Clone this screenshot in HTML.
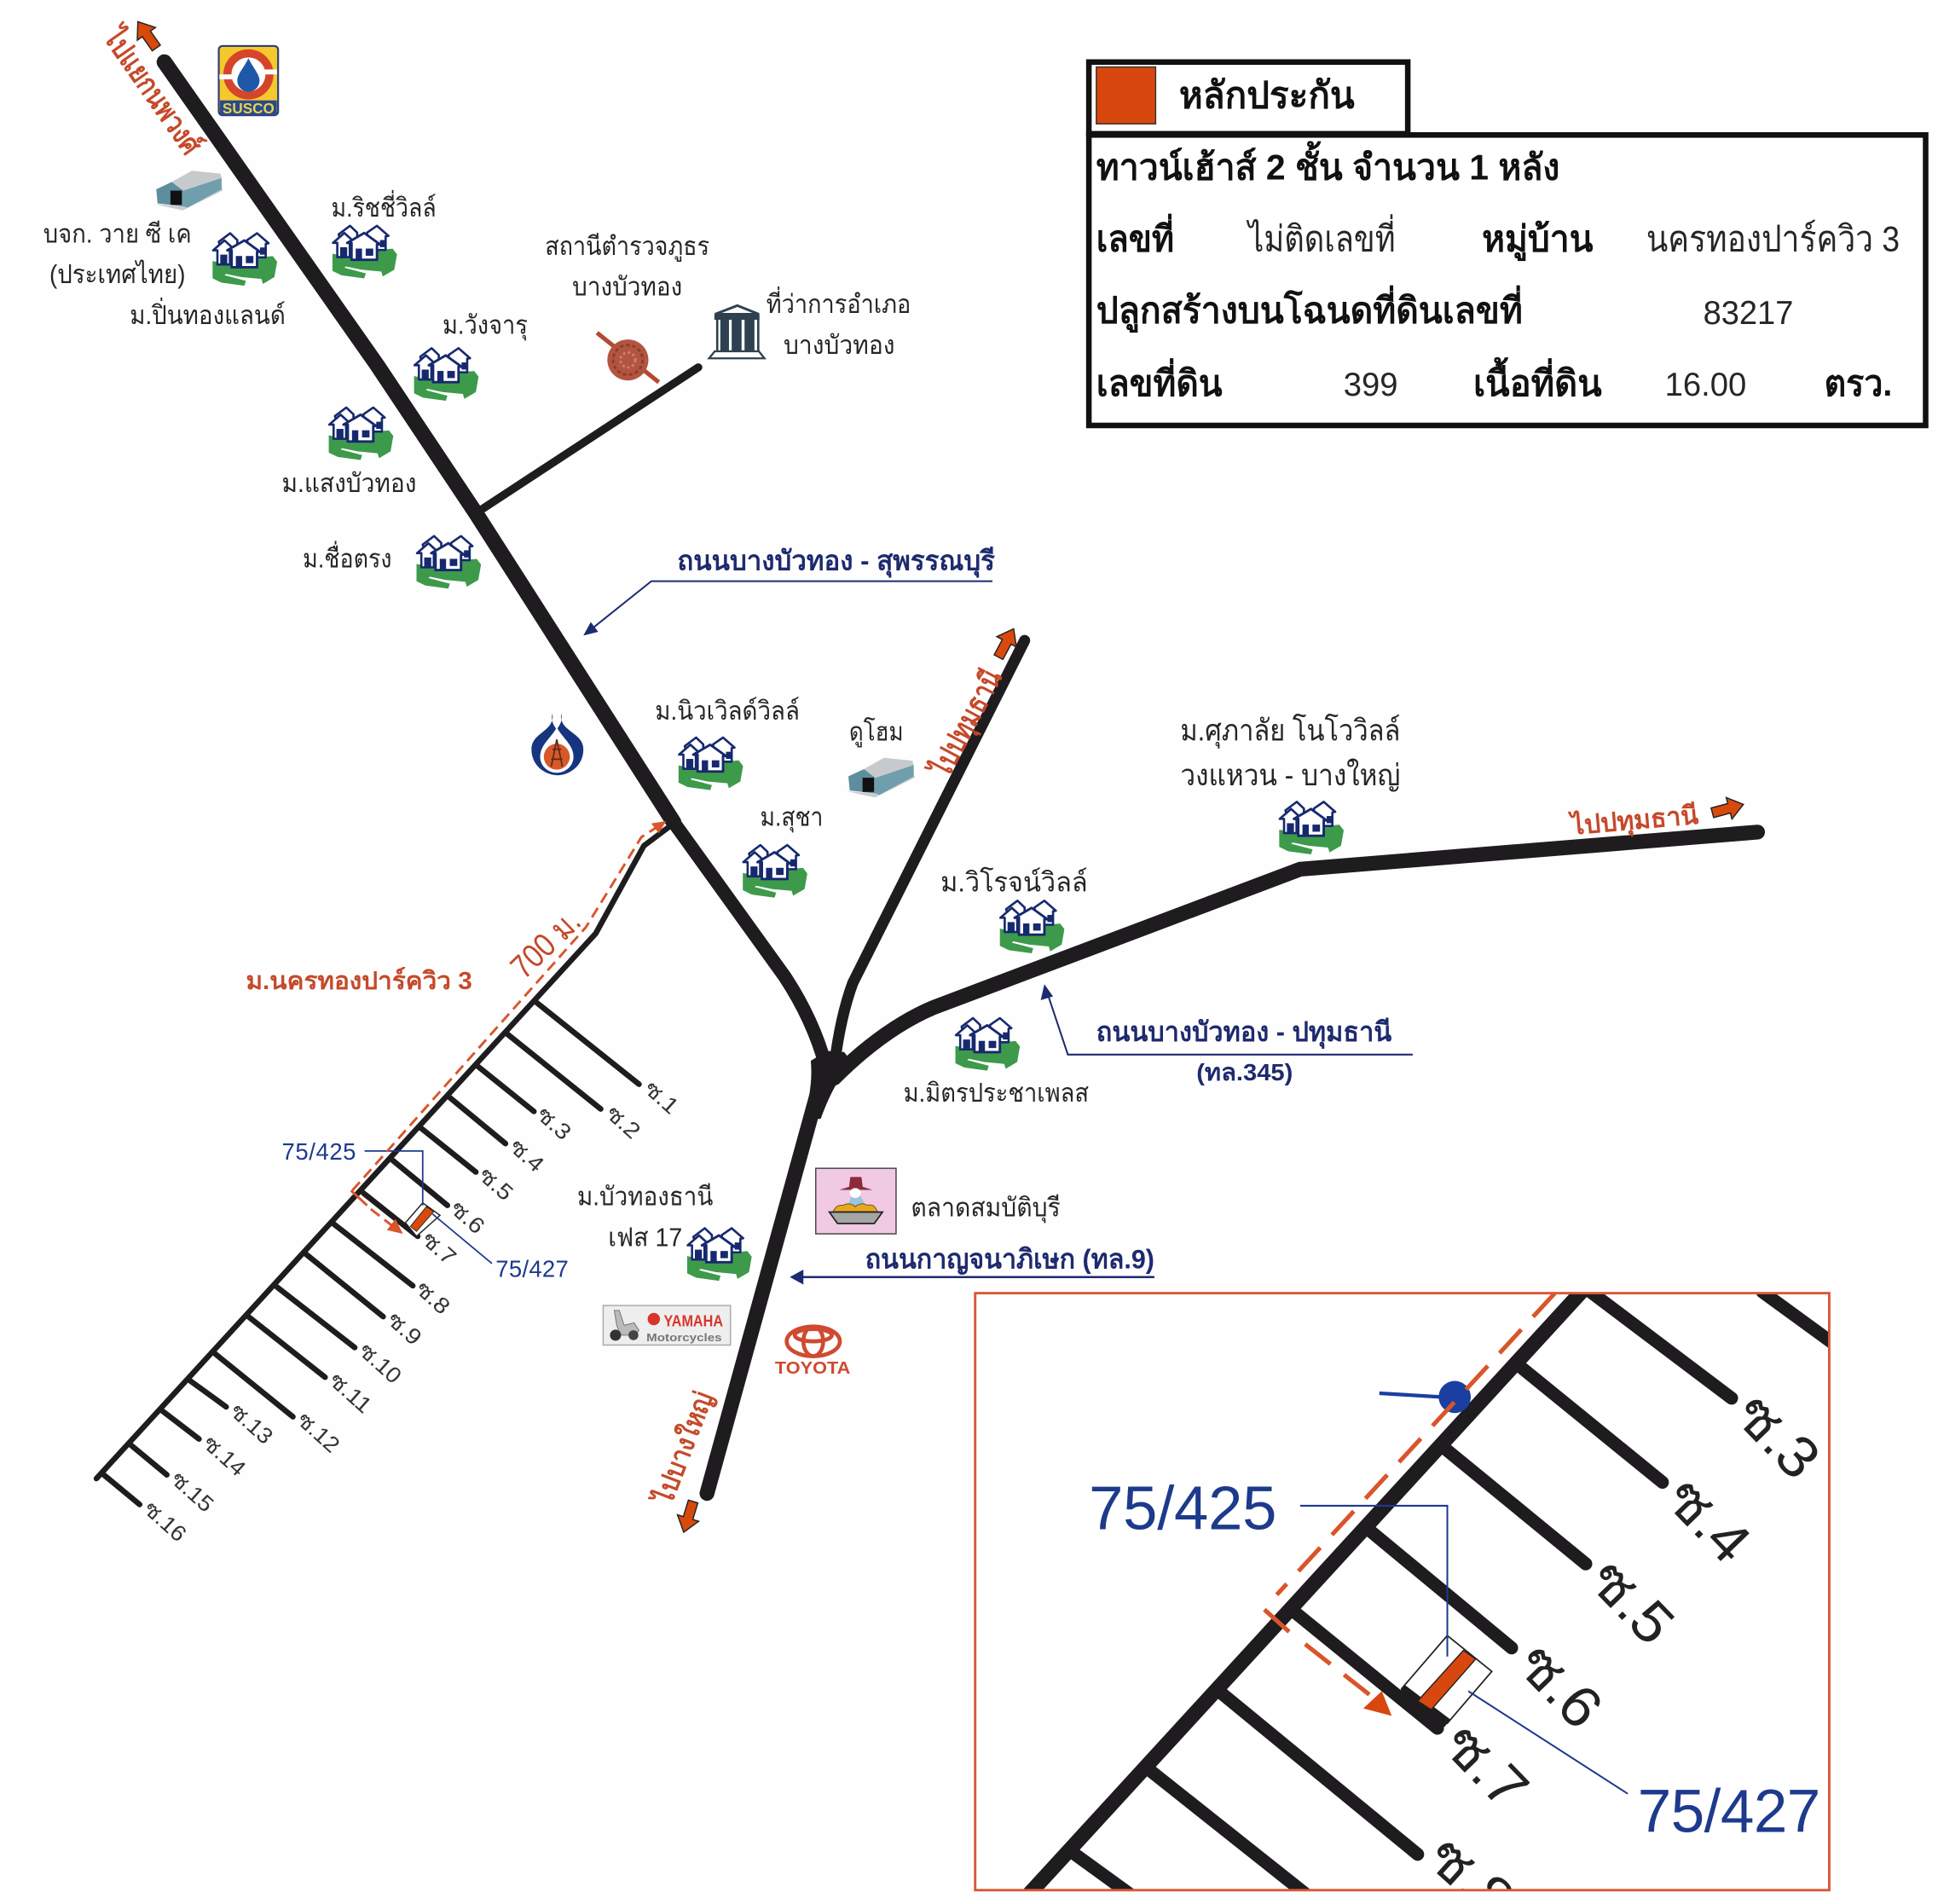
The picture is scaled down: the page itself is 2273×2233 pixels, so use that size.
<!DOCTYPE html>
<html><head><meta charset="utf-8"><style>
html,body{margin:0;padding:0;background:#fefefe}
svg{display:block}
text{font-family:"Liberation Sans","Noto Sans CJK SC","WenQuanYi Zen Hei",sans-serif;fill:#262626}
.b{font-weight:bold;fill:#111}
.n{fill:#1e2a6e;font-weight:bold}
.bl{fill:#1d3a8c}
.o{fill:#c5492a}
.s{font-size:18px;fill:#333}
.i{font-size:47px;fill:#222}
</style></head><body>
<svg xmlns="http://www.w3.org/2000/svg" width="2273" height="2233" viewBox="0 0 1568 1540">
<defs>
<g id="house">
<path d="M1,24 L15,27 L36,28 L38,21 L49.7,20 L53.2,24.5 L51,37 L41.7,42.5 L40.5,38.5 L24.4,37 L11.8,34.4 L10.6,35.4 L28,40 L26.7,44 L8.3,41.5 L1,38 Z" fill="#3d9a4a"/>
<path d="M29,7 L37,1.5 L46.3,9.6 L44,10 L44,21 L30,21 Z" fill="#fff" stroke="#17296e" stroke-width="1.8" stroke-linejoin="round"/>
<rect x="39.4" y="13" width="4.6" height="5.8" fill="#17296e"/>
<path d="M6,8.4 L15.2,1.5 L21,7 L21,15 L8,15 Z" fill="#fff" stroke="#17296e" stroke-width="1.8" stroke-linejoin="round"/>
<path d="M1.4,15.3 L10.6,7.3 L18,14 L15,15.3 L15,26.8 L4.9,26.8 L4.9,15.3 Z" fill="#fff" stroke="#17296e" stroke-width="1.8" stroke-linejoin="round"/>
<rect x="7.2" y="18.8" width="5.7" height="8" fill="#17296e"/>
<path d="M12.9,15.3 L26.7,7.3 L39.4,16.5 L37,16.5 L37,29 L16.4,29 L16.4,15.3 Z" fill="#fff" stroke="#17296e" stroke-width="2" stroke-linejoin="round"/>
<rect x="19.8" y="19.9" width="5.1" height="9.2" fill="#17296e"/><rect x="27.9" y="19.9" width="6.1" height="5.8" fill="#17296e"/>
</g>
<g id="ware">
<path d="M1,28 L24,33 L56,17 L56,15 L27,30 Z" fill="#c8cccc"/>
<path d="M2.4,15.9 L15,10 L24.2,17 L24.2,29.7 L3.5,27.4 Z" fill="#5e8e9e"/>
<path d="M24.2,17 L55.3,6.7 L55.3,15.9 L27.7,30.8 L24.2,29.7 Z" fill="#6f9fac"/>
<path d="M15,10 L31.2,.9 L54.2,3.2 L55.3,6.7 L24.2,17 Z" fill="#c6cacd"/>
<rect x="13.9" y="17" width="9.2" height="11.5" fill="#111"/>
</g>
<polygon id="ar" points="0,-13 9,-1 4,-1 4,13 -4,13 -4,-1 -9,-1" fill="#d84a0c" stroke="#222" stroke-width="1"/>
<clipPath id="cl"><rect x="789" y="1046" width="691" height="483"/></clipPath>
</defs>
<rect width="1568" height="1540" fill="#fefefe"/>

<!-- Roads -->
<g fill="none" stroke="#1e1c1e" stroke-linecap="round" stroke-linejoin="round">
<polyline points="133,50 305,295 385,415 545,665" stroke-width="12.5"/>
<path d="M545,665 L635,790 Q658,825 668,862" stroke-width="11"/>
<path d="M668,860 L572,1208" stroke-width="12"/>
<path d="M829,518 L690,795 Q680,822 675,862" stroke-width="9"/>
<path d="M1422,673 L1052,703 L755,815 Q715,832 675,872" stroke-width="12"/>
<line x1="385" y1="415" x2="565" y2="297" stroke-width="6.5"/>
<polyline points="545,666 521,684 482,755 78,1196" stroke-width="4.5"/>
<g stroke-width="4.5">
<line x1="433" y1="810" x2="517" y2="877"/><line x1="410" y1="836" x2="486" y2="897"/>
<line x1="386" y1="862" x2="432" y2="899"/><line x1="363" y1="887" x2="409" y2="925"/>
<line x1="340" y1="912" x2="385" y2="948"/><line x1="317" y1="938" x2="362" y2="975"/>
<line x1="294" y1="965" x2="338" y2="1000"/><line x1="270" y1="990" x2="334" y2="1040"/>
<line x1="247" y1="1014" x2="310" y2="1065"/><line x1="224" y1="1041" x2="287" y2="1090"/>
<line x1="201" y1="1065" x2="263" y2="1114"/><line x1="174" y1="1095" x2="237" y2="1146"/>
<line x1="154" y1="1117" x2="183" y2="1138"/><line x1="131" y1="1141" x2="161" y2="1164"/>
<line x1="106" y1="1169" x2="135" y2="1193"/><line x1="84" y1="1193" x2="113" y2="1217"/>
</g>
</g>
<path d="M656,858 L669,850 L683,851 L690,860 Q676,872 664,905 L650,905 Q658,880 656,858 Z" fill="#1e1c1e"/>

<!-- Soi labels -->
<g class="s">
<text class="s" transform="translate(520,882) rotate(42)" textLength="30" lengthAdjust="spacingAndGlyphs">ซ.1</text>
<text class="s" transform="translate(489,902) rotate(42)" textLength="30" lengthAdjust="spacingAndGlyphs">ซ.2</text>
<text class="s" transform="translate(433,903) rotate(42)" textLength="30" lengthAdjust="spacingAndGlyphs">ซ.3</text>
<text class="s" transform="translate(411,929) rotate(42)" textLength="30" lengthAdjust="spacingAndGlyphs">ซ.4</text>
<text class="s" transform="translate(386,952) rotate(42)" textLength="30" lengthAdjust="spacingAndGlyphs">ซ.5</text>
<text class="s" transform="translate(363,979) rotate(42)" textLength="30" lengthAdjust="spacingAndGlyphs">ซ.6</text>
<text class="s" transform="translate(340,1004) rotate(42)" textLength="30" lengthAdjust="spacingAndGlyphs">ซ.7</text>
<text class="s" transform="translate(335,1044) rotate(42)" textLength="30" lengthAdjust="spacingAndGlyphs">ซ.8</text>
<text class="s" transform="translate(312,1069) rotate(42)" textLength="30" lengthAdjust="spacingAndGlyphs">ซ.9</text>
<text class="s" transform="translate(289,1094) rotate(42)" textLength="39" lengthAdjust="spacingAndGlyphs">ซ.10</text>
<text class="s" transform="translate(265,1118) rotate(42)" textLength="39" lengthAdjust="spacingAndGlyphs">ซ.11</text>
<text class="s" transform="translate(239,1150) rotate(42)" textLength="39" lengthAdjust="spacingAndGlyphs">ซ.12</text>
<text class="s" transform="translate(185,1143) rotate(42)" textLength="39" lengthAdjust="spacingAndGlyphs">ซ.13</text>
<text class="s" transform="translate(163,1169) rotate(42)" textLength="39" lengthAdjust="spacingAndGlyphs">ซ.14</text>
<text class="s" transform="translate(137,1198) rotate(42)" textLength="39" lengthAdjust="spacingAndGlyphs">ซ.15</text>
<text class="s" transform="translate(115,1222) rotate(42)" textLength="39" lengthAdjust="spacingAndGlyphs">ซ.16</text>
</g>

<!-- Small plot -->
<polygon points="342,973 356,983 337,1000 328,989" fill="#fff" stroke="#222" stroke-width="1"/>
<polygon points="345,976 351,980 337,996 332,992" fill="#d84a0c" stroke="#222" stroke-width=".6"/>
<g fill="none" stroke="#1d3a8c" stroke-width="1.2">
<polyline points="295,931 342,931 342,975"/><line x1="350" y1="982" x2="398" y2="1022"/>
</g>
<text class="bl" x="228" y="938" font-size="19" textLength="60">75/425</text>
<text class="bl" x="401" y="1033" font-size="19" textLength="59">75/427</text>
<g fill="none" stroke="#d9552a" stroke-width="2" stroke-dasharray="9 5">
<polyline points="533,668 519,677 474,750 285,963"/>
<line x1="300" y1="978" x2="318" y2="992"/>
</g>
<line x1="284" y1="963" x2="297" y2="975" stroke="#d9552a" stroke-width="2"/>
<polygon points="539,664 527,666 533,674" fill="#d9552a"/>
<polygon points="326,998 313,995 320,986" fill="#d9552a"/>

<!-- Road annotations -->
<g fill="none" stroke="#1e2a6e" stroke-width="1.4">
<polyline points="803,470 527,470 477,510"/>
<polyline points="1143,853 864,853 847,802"/>
<line x1="934" y1="1033" x2="648" y2="1033" stroke-width="1.8"/>
</g>
<polygon points="472,514 478,503 484,511" fill="#1e2a6e"/>
<polygon points="845,796 842,809 852,806" fill="#1e2a6e"/>
<polygon points="639,1033 650,1027 650,1039" fill="#1e2a6e"/>

<text class="n" x="548" y="461" font-size="22" textLength="257" lengthAdjust="spacingAndGlyphs">ถนนบางบัวทอง - สุพรรณบุรี</text>
<text class="n" x="887" y="842" font-size="22" textLength="239" lengthAdjust="spacingAndGlyphs">ถนนบางบัวทอง - ปทุมธานี</text>
<text class="n" x="968" y="874" font-size="19" textLength="78" lengthAdjust="spacingAndGlyphs">(ทล.345)</text>
<text class="n" x="700" y="1026" font-size="22" textLength="234" lengthAdjust="spacingAndGlyphs">ถนนกาญจนาภิเษก (ทล.9)</text>

<!-- Direction -->
<use href="#ar" transform="translate(119,28) rotate(-35)"/>
<use href="#ar" transform="translate(814,520) rotate(28)"/>
<use href="#ar" transform="translate(1398,654) rotate(75)"/>
<use href="#ar" transform="translate(557,1227) rotate(197)"/>
<text class="o b" style="fill:#c5492a" font-size="24" transform="translate(83,30) rotate(55)" textLength="118" lengthAdjust="spacingAndGlyphs">ไปแยกนพวงศ์</text>
<text class="o b" style="fill:#c5492a" font-size="24" transform="translate(767,630) rotate(-62)" textLength="94" lengthAdjust="spacingAndGlyphs">ไปปทุมธานี</text>
<text class="o b" style="fill:#c5492a" font-size="21" transform="translate(1272,675) rotate(-5)" textLength="103" lengthAdjust="spacingAndGlyphs">ไปปทุมธานี</text>
<text class="o b" style="fill:#c5492a" font-size="22" transform="translate(543,1218) rotate(-69)" textLength="95" lengthAdjust="spacingAndGlyphs">ไปบางใหญ่</text>
<text class="o b" style="fill:#c5492a" x="199" y="800" font-size="20" textLength="183" lengthAdjust="spacingAndGlyphs">ม.นครทองปาร์ควิว 3</text>
<text class="o" font-size="27" transform="translate(424,793) rotate(-44)" textLength="66" lengthAdjust="spacingAndGlyphs">700 ม.</text>

<!-- Houses -->
<use href="#house" x="171" y="187"/><use href="#house" x="268" y="181"/>
<use href="#house" x="334" y="280"/><use href="#house" x="265" y="328"/>
<use href="#house" x="336" y="432"/><use href="#house" x="548" y="595"/>
<use href="#house" x="600" y="682"/><use href="#house" x="808" y="727"/>
<use href="#house" x="1034" y="647"/><use href="#house" x="772" y="822"/>
<use href="#house" x="555" y="992"/>
<use href="#ware" x="124" y="137"/><use href="#ware" x="684" y="612"/>

<!-- SUSCO -->
<rect x="177" y="37" width="48" height="56" rx="3" fill="#f5c82e" stroke="#2a3f7a" stroke-width="1.5"/>
<circle cx="201" cy="60" r="17" fill="#fff" stroke="#d5452a" stroke-width="6.5"/>
<rect x="177.5" y="60" width="13" height="4" fill="#fff"/><rect x="211" y="56" width="13" height="4" fill="#fff"/>
<path d="M201,47 C197,55 192,60 192,65 A9,9 0 0 0 210,65 C210,60 205,55 201,47 Z" fill="#1f58a8"/>
<rect x="178" y="81" width="46" height="12" fill="#2a4a8a"/>
<text x="201" y="91.5" font-size="12" font-weight="bold" text-anchor="middle" style="fill:#e6d250" textLength="42" lengthAdjust="spacingAndGlyphs">SUSCO</text>

<!-- PTT -->
<path d="M447,577 C449,592 430,592 430,606 C430,620 442,627 451,627 C460,627 472,620 472,606 C472,592 452,592 454,577 C456,585 450.5,588 450.5,591 C450,588 445,585 447,577 Z" fill="#16357f"/>
<path d="M450.5,588 C447,596 437,602 437,612 C437,620 444,625 450.5,625 C457,625 464,620 464,612 C464,602 454,596 450.5,588 Z" fill="#fff"/>
<circle cx="450.5" cy="612" r="10.5" fill="#d8582a"/>
<path d="M450.5,598 L446,620 M450.5,598 L455,620 M447,606 H454 M446,614 H455" stroke="#5c2a1a" stroke-width="1.2" fill="none"/>

<!-- Police -->
<line x1="483" y1="269" x2="533" y2="309" stroke="#b5492f" stroke-width="3.5"/>
<circle cx="508" cy="291" r="16.6" fill="#b25540"/>
<circle cx="508" cy="291" r="12" fill="none" stroke="#8f3c2a" stroke-width="2" stroke-dasharray="3 2"/>
<circle cx="508" cy="291" r="6" fill="none" stroke="#c98070" stroke-width="2" stroke-dasharray="2 2"/>

<!-- Government -->
<polygon points="596.6,247 614,254 578.5,254" fill="#fff" stroke="#2f4150" stroke-width="2"/>
<rect x="578" y="254" width="36.5" height="4.5" fill="#2f4150"/>
<g fill="#2f4150">
<rect x="579.4" y="258" width="1.8" height="26"/>
<rect x="582.8" y="258" width="7" height="26"/><rect x="592" y="258" width="8" height="26"/><rect x="602.4" y="258" width="8" height="26"/>
<rect x="612.6" y="258" width="1.8" height="26"/>
</g>
<polygon points="578.3,284 614,284 618.5,289.7 573.7,289.7" fill="#fff" stroke="#2f4150" stroke-width="1.6"/>

<!-- Market -->
<rect x="660" y="945" width="65" height="53" fill="#f0c9e2" stroke="#444" stroke-width="1"/>
<path d="M688,952 H697 L698,960 L706,962.5 H679 L687,960 Z" fill="#8c2a3c"/>
<path d="M685,978 L689,967 H696 L702,978 Z" fill="#9cc3e4"/>
<ellipse cx="692" cy="965" rx="4.5" ry="4" fill="#fff"/>
<path d="M674,980 Q677,974 682,975 Q687,972 692,976 Q697,972 702,975 Q707,973 710,980 Z" fill="#e8a81e" stroke="#6a4a10" stroke-width=".6"/>
<polygon points="671,980.4 714,980.4 707.4,989.6 677.6,989.6" fill="#a5a5a5" stroke="#222" stroke-width="1.2"/>

<!-- Yamaha -->
<rect x="488" y="1056" width="103" height="32" fill="#eee" stroke="#aaa" stroke-width="1"/>
<path d="M497,1060 L501,1060 L505,1072 L513,1070 L517,1076 L514,1080 L502,1080 L499,1072 Z" fill="#bbb" stroke="#777" stroke-width=".7"/>
<circle cx="498" cy="1080" r="4.5" fill="#333"/><circle cx="512.5" cy="1080" r="4" fill="#444"/>
<circle cx="529" cy="1067" r="5" fill="#d8352a"/>
<text x="537" y="1073" font-size="13" font-weight="bold" style="fill:#d8352a" textLength="48" lengthAdjust="spacingAndGlyphs">YAMAHA</text>
<text x="523" y="1085" font-size="9" font-weight="bold" style="fill:#777" textLength="61" lengthAdjust="spacingAndGlyphs">Motorcycles</text>

<!-- Toyota -->
<g fill="none" stroke="#cf4a30" stroke-width="3.2">
<ellipse cx="658" cy="1085" rx="21.5" ry="12"/><ellipse cx="658" cy="1085" rx="8" ry="12"/><ellipse cx="658" cy="1080" rx="15" ry="5"/>
</g>
<text x="627" y="1111" font-size="14" font-weight="bold" style="fill:#cf4a30" textLength="61" lengthAdjust="spacingAndGlyphs">TOYOTA</text>

<!-- Labels -->
<g font-size="21">
<text x="35" y="196" font-size="21" textLength="120" lengthAdjust="spacingAndGlyphs">บจก. วาย ซี เค</text>
<text x="40" y="229" font-size="21" textLength="110" lengthAdjust="spacingAndGlyphs">(ประเทศไทย)</text>
<text x="268" y="175" font-size="21" textLength="85" lengthAdjust="spacingAndGlyphs">ม.ริชชี่วิลล์</text>
<text x="105" y="262" font-size="21" textLength="126" lengthAdjust="spacingAndGlyphs">ม.ปิ่นทองแลนด์</text>
<text x="441" y="206" font-size="21" textLength="133" lengthAdjust="spacingAndGlyphs">สถานีตำรวจภูธร</text>
<text x="463" y="239" font-size="21" textLength="89" lengthAdjust="spacingAndGlyphs">บางบัวทอง</text>
<text x="620" y="253" font-size="21" textLength="117" lengthAdjust="spacingAndGlyphs">ที่ว่าการอำเภอ</text>
<text x="634" y="286" font-size="21" textLength="90" lengthAdjust="spacingAndGlyphs">บางบัวทอง</text>
<text x="358" y="270" font-size="21" textLength="69" lengthAdjust="spacingAndGlyphs">ม.วังจารุ</text>
<text x="228" y="398" font-size="21" textLength="109" lengthAdjust="spacingAndGlyphs">ม.แสงบัวทอง</text>
<text x="245" y="459" font-size="21" textLength="72" lengthAdjust="spacingAndGlyphs">ม.ชื่อตรง</text>
<text x="530" y="582" font-size="21" textLength="117" lengthAdjust="spacingAndGlyphs">ม.นิวเวิลด์วิลล์</text>
<text x="687" y="599" font-size="21" textLength="44" lengthAdjust="spacingAndGlyphs">ดูโฮม</text>
<text x="615" y="668" font-size="21" textLength="51" lengthAdjust="spacingAndGlyphs">ม.สุชา</text>
<text x="955" y="599" font-size="24" textLength="178" lengthAdjust="spacingAndGlyphs">ม.ศุภาลัย โนโววิลล์</text>
<text x="955" y="635" font-size="24" textLength="178" lengthAdjust="spacingAndGlyphs">วงแหวน - บางใหญ่</text>
<text x="761" y="721" font-size="22" textLength="119" lengthAdjust="spacingAndGlyphs">ม.วิโรจน์วิลล์</text>
<text x="731" y="891" font-size="21" textLength="150" lengthAdjust="spacingAndGlyphs">ม.มิตรประชาเพลส</text>
<text x="467" y="975" font-size="21" textLength="110" lengthAdjust="spacingAndGlyphs">ม.บัวทองธานี</text>
<text x="492" y="1008" font-size="21" textLength="60" lengthAdjust="spacingAndGlyphs">เฟส 17</text>
<text x="737" y="984" font-size="21" textLength="121" lengthAdjust="spacingAndGlyphs">ตลาดสมบัติบุรี</text>
</g>

<!-- Legend -->
<rect x="881" y="50" width="258" height="58" fill="#fff" stroke="#111" stroke-width="4.5"/>
<rect x="887" y="54" width="48" height="46" fill="#d8480e" stroke="#333" stroke-width="1"/>
<rect x="881" y="109" width="677" height="235" fill="#fff" stroke="#111" stroke-width="4.5"/>
<text class="b" x="954" y="87" font-size="30" textLength="142" lengthAdjust="spacingAndGlyphs">หลักประกัน</text>
<text class="b" x="887" y="145" font-size="29" textLength="375" lengthAdjust="spacingAndGlyphs">ทาวน์เฮ้าส์ 2 ชั้น จำนวน 1 หลัง</text>
<text class="b" x="887" y="203" font-size="29" textLength="63" lengthAdjust="spacingAndGlyphs">เลขที่</text>
<text x="1010" y="203" font-size="29" textLength="119" lengthAdjust="spacingAndGlyphs">ไม่ติดเลขที่</text>
<text class="b" x="1199" y="203" font-size="29" textLength="90" lengthAdjust="spacingAndGlyphs">หมู่บ้าน</text>
<text x="1332" y="203" font-size="29" textLength="205" lengthAdjust="spacingAndGlyphs">นครทองปาร์ควิว 3</text>
<text class="b" x="887" y="261" font-size="29" textLength="345" lengthAdjust="spacingAndGlyphs">ปลูกสร้างบนโฉนดที่ดินเลขที่</text>
<text x="1378" y="262" font-size="27" textLength="73" lengthAdjust="spacingAndGlyphs">83217</text>
<text class="b" x="887" y="320" font-size="29" textLength="102" lengthAdjust="spacingAndGlyphs">เลขที่ดิน</text>
<text x="1087" y="320" font-size="27" textLength="44" lengthAdjust="spacingAndGlyphs">399</text>
<text class="b" x="1192" y="320" font-size="29" textLength="104" lengthAdjust="spacingAndGlyphs">เนื้อที่ดิน</text>
<text x="1347" y="320" font-size="27" textLength="66" lengthAdjust="spacingAndGlyphs">16.00</text>
<text class="b" x="1476" y="320" font-size="29" textLength="55" lengthAdjust="spacingAndGlyphs">ตรว.</text>

<!-- Inset -->
<rect x="789" y="1046" width="691" height="483" fill="#fff"/>
<g clip-path="url(#cl)">
<g fill="none" stroke="#1e1c1e">
<line x1="1284" y1="1040" x2="830" y2="1535" stroke-width="12"/>
<g stroke-width="10.5" stroke-linecap="round">
<line x1="1287" y1="1045" x2="1401" y2="1131"/>
<line x1="1426" y1="1045" x2="1485" y2="1088"/>
<line x1="1227" y1="1103" x2="1345" y2="1199"/>
<line x1="1167" y1="1170" x2="1283" y2="1265"/>
<line x1="1107" y1="1237" x2="1223" y2="1333"/>
<line x1="1045" y1="1302" x2="1163" y2="1398"/>
<line x1="985" y1="1367" x2="1147" y2="1500"/>
<line x1="929" y1="1431" x2="1060" y2="1535"/>
<line x1="867" y1="1498" x2="918" y2="1535"/>
</g>
</g>
<text class="i" transform="translate(1401,1146) rotate(46)" textLength="74" lengthAdjust="spacingAndGlyphs">ซ.3</text>
<text class="i" transform="translate(1345,1214) rotate(46)" textLength="74" lengthAdjust="spacingAndGlyphs">ซ.4</text>
<text class="i" transform="translate(1283,1280) rotate(46)" textLength="74" lengthAdjust="spacingAndGlyphs">ซ.5</text>
<text class="i" transform="translate(1225,1348) rotate(46)" textLength="74" lengthAdjust="spacingAndGlyphs">ซ.6</text>
<text class="i" transform="translate(1165,1413) rotate(46)" textLength="74" lengthAdjust="spacingAndGlyphs">ซ.7</text>
<text class="i" transform="translate(1152,1506) rotate(42)" textLength="74" lengthAdjust="spacingAndGlyphs">ซ.8</text>
<line x1="1116" y1="1127" x2="1166" y2="1130" stroke="#1a3fa0" stroke-width="3"/>
<circle cx="1177" cy="1130" r="13" fill="#1a3fa0"/>
<line x1="1258" y1="1046" x2="1033" y2="1290" stroke="#d9552a" stroke-width="3.5" stroke-dasharray="26 14"/>
<line x1="1023" y1="1302" x2="1043" y2="1320" stroke="#d9552a" stroke-width="3.5"/>
<line x1="1056" y1="1330" x2="1112" y2="1374" stroke="#d9552a" stroke-width="3.5" stroke-dasharray="26 14"/>
<polygon points="1126,1388 1118,1368 1103,1382" fill="#d8480e"/>
<polygon points="1171,1323 1207,1352 1171,1394 1134,1366" fill="#fff" stroke="#222" stroke-width="1.2"/>
<line x1="1134" y1="1366" x2="1171" y2="1394" stroke="#1e1c1e" stroke-width="8"/>
<polygon points="1184,1335 1194,1342 1158,1383 1147,1376" fill="#d8480e" stroke="#222" stroke-width="1"/>
<polyline points="1052,1218 1171,1218 1171,1340" fill="none" stroke="#1d3a8c" stroke-width="1.4"/>
<line x1="1188" y1="1368" x2="1317" y2="1451" stroke="#1d3a8c" stroke-width="1.4"/>
<text class="bl" x="881" y="1237" font-size="50" textLength="152">75/425</text>
<text class="bl" x="1325" y="1482" font-size="49" textLength="148">75/427</text>
</g>
<rect x="789" y="1046" width="691" height="483" fill="none" stroke="#d8583a" stroke-width="2"/>
</svg>
</body></html>
